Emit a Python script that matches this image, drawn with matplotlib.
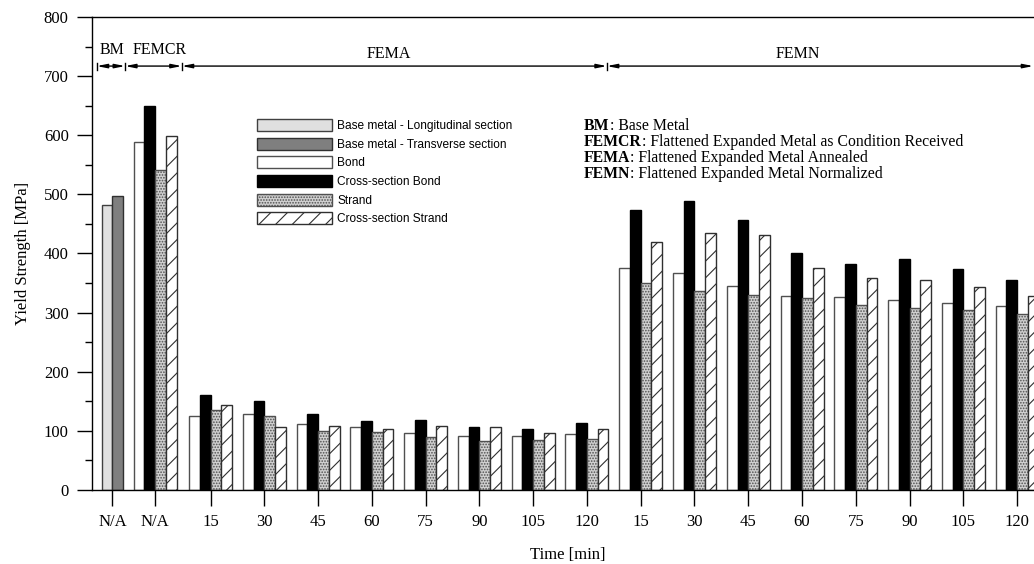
import numpy as np
import matplotlib
matplotlib.use("Agg")
import matplotlib.pyplot as plt
from matplotlib.patches import Patch
from matplotlib.ticker import MultipleLocator

plt.rcParams["font.family"] = ["Liberation Serif", "DejaVu Serif"]
plt.rcParams["hatch.linewidth"] = 0.8

# --- data (yield strength, MPa) ---
bm_labels = ["Base metal - Longitudinal section", "Base metal - Transverse section"]
bm_values = [482, 497]

series_labels = ["Bond", "Cross-section Bond", "Strand", "Cross-section Strand"]
femcr_values = [589, 649, 542, 598]

times = ["15", "30", "45", "60", "75", "90", "105", "120"]
fema_bond = [126, 128, 111, 107, 96, 91, 91, 94]
fema_cs_bond = [161, 151, 128, 116, 118, 107, 104, 113]
fema_strand = [136, 126, 100, 98, 89, 83, 85, 87]
fema_cs_strand = [143, 107, 109, 104, 109, 107, 96, 104]

femn_bond = [375, 367, 345, 328, 326, 321, 317, 311]
femn_cs_bond = [474, 489, 457, 401, 382, 390, 373, 356]
femn_strand = [350, 337, 330, 324, 313, 308, 304, 298]
femn_cs_strand = [420, 435, 431, 375, 358, 356, 343, 328]

group_names = ["BM", "FEMCR", "FEMA", "FEMN"]
group_desc = ["Base Metal",
              "Flattened Expanded Metal as Condition Received",
              "Flattened Expanded Metal Annealed",
              "Flattened Expanded Metal Normalized"]

# --- styles ---
bm_styles = [dict(facecolor="#e0e0e0", edgecolor="#404040"),
             dict(facecolor="#7f7f7f", edgecolor="#303030")]
styles = [dict(facecolor="white", edgecolor="#505050"),
          dict(facecolor="black", edgecolor="black"),
          dict(facecolor="#d0d0d0", edgecolor="#505050", hatch="......"),
          dict(facecolor="white", edgecolor="#303030", hatch="//")]

fig = plt.figure(figsize=(10.34, 5.64), dpi=100)
W, H = 1034, 564
ax = fig.add_axes([92 / W, 1 - 490 / H, (1044 - 92) / W, 473 / H])

bw = 0.2
x_bm = 0.175
x_cr = 0.97
x_a = np.arange(len(times)) + 2
x_n = np.arange(len(times)) + 10

ax.bar([x_bm - bw / 2, x_bm + bw / 2], bm_values, bw, linewidth=1.0,
       color=[s["facecolor"] for s in bm_styles],
       edgecolor=[s["edgecolor"] for s in bm_styles])

offsets = np.array([-1.5, -0.5, 0.5, 1.5]) * bw
fema = [fema_bond, fema_cs_bond, fema_strand, fema_cs_strand]
femn = [femn_bond, femn_cs_bond, femn_strand, femn_cs_strand]
for k in range(4):
    ax.bar(x_cr + offsets[k], femcr_values[k], bw, linewidth=1.0, **styles[k])
    ax.bar(x_a + offsets[k], fema[k], bw, linewidth=1.0, **styles[k])
    ax.bar(x_n + offsets[k], femn[k], bw, linewidth=1.0, **styles[k])

ax.set_xlim(-0.205, 17.5)
ax.set_ylim(0, 800)
ax.set_xticks([x_bm, x_cr] + list(x_a) + list(x_n))
ax.set_xticklabels(["N/A", "N/A"] + times + times)
ax.yaxis.set_major_locator(MultipleLocator(100))
ax.yaxis.set_minor_locator(MultipleLocator(50))
ax.tick_params(axis="x", direction="out", length=11.5, width=1.0, pad=6, labelsize=12)
ax.tick_params(axis="y", which="major", direction="out", length=10.8, width=1.0, pad=6, labelsize=12)
ax.tick_params(axis="y", which="minor", direction="out", length=5, width=1.0)
for sp in ["left", "bottom", "top"]:
    ax.spines[sp].set_linewidth(1.0)
ax.set_ylabel("Yield Strength [MPa]", fontsize=12, labelpad=9)
ax.set_xlabel("Time [min]", fontsize=12, labelpad=12)

# --- group range arrows ---
bounds = [-0.117, 0.41, 1.464, 9.37, 17.3]
y_arr = 717
for i in range(4):
    ax.annotate("", xy=(bounds[i + 1], y_arr), xytext=(bounds[i], y_arr),
                arrowprops=dict(arrowstyle="<|-|>,head_length=0.6,head_width=0.12",
                                color="black", lw=1.0, shrinkA=0, shrinkB=0))
for b in bounds[:-1]:
    ax.plot([b, b], [y_arr - 6, y_arr + 6], color="black", lw=1.0)
label_x = [0.163, 1.06, 5.32, 12.93]
label_y = [744, 744, 737, 737]
for name, lx, ly in zip(group_names, label_x, label_y):
    ax.text(lx, ly, name, ha="center", va="center", fontsize=11.5)

# --- legend ---
handles = [Patch(linewidth=1.0, **s) for s in bm_styles] + \
          [Patch(linewidth=1.0, **s) for s in styles]
fig.legend(handles, bm_labels + series_labels, loc="upper left",
           bbox_to_anchor=(257 / W, 1 - 119 / H), frameon=False,
           prop=dict(family="Liberation Sans", size=8.6),
           handlelength=6.3, handleheight=1.17, labelspacing=0.47,
           handletextpad=0.4, borderpad=0, borderaxespad=0)

# --- abbreviation notes ---
renderer = fig.canvas.get_renderer()
y0 = 126
for i, (name, desc) in enumerate(zip(group_names, group_desc)):
    yy = 1 - (y0 + 16 * i) / H
    t = fig.text(584 / W, yy, name, fontsize=11.3, fontweight="bold", va="center")
    ext = t.get_window_extent(renderer=renderer)
    fig.text(ext.x1 / W, yy, ": " + desc, fontsize=11.3, va="center")

fig.savefig("out.png", dpi=100)
